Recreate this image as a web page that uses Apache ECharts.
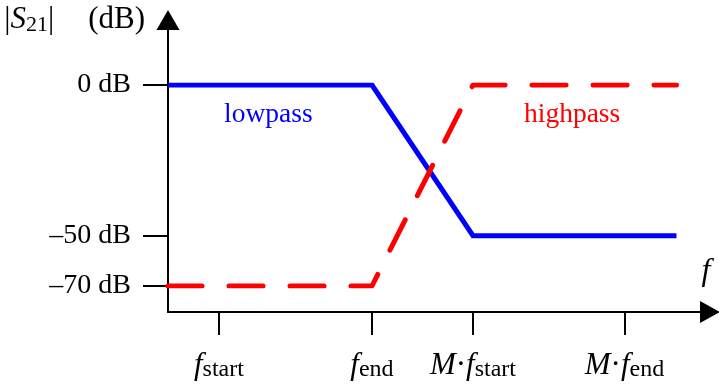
<!DOCTYPE html>
<html><head><meta charset="utf-8">
<script src="https://cdn.jsdelivr.net/npm/echarts@6/dist/echarts.min.js"></script>
<style>html,body{margin:0;padding:0;background:#fff}#c{width:719px;height:387px}</style>
</head><body><div id="c"></div>
<script>
// Schematic |S21| levels, bottom to top (evenly spaced schematic rows)
const levelCategories = ['–70 dB', '–50 dB', '', '', '0 dB'];
// Frequency axis in log units (one unit = log(f_end / f_start))
const freqTickPositions = [0, 1, 1.66, 2.65];
const freqTickLabels = ['{f|f}{s|start}', '{f|f}{s|end}', '{m|M}{d|·}{f|f}{s|start}', '{m|M}{d|·}{f|f}{s|end}'];
const freqAxisMin = -0.333;
const freqAxisMax = 3.209;
const lowpassX = [-0.333, 1, 1.66, 2.99];
const lowpassY = ['0 dB', '0 dB', '–50 dB', '–50 dB'];
const highpassX = [-0.333, 1, 1.66, 2.99];
const highpassY = ['–70 dB', '–70 dB', '0 dB', '0 dB'];

const FONT = '"Liberation Serif", "Times New Roman", serif';
const chart = echarts.init(document.getElementById('c'));
const pair = (xs, ys) => xs.map((x, i) => [x, ys[i]]);

chart.setOption({
  animation: false,
  backgroundColor: '#fff',
  grid: [
    { left: 168, right: 9, top: 20, bottom: 75, outerBoundsMode: 'none', containLabel: false },
    { left: 168, right: 9, top: 85, bottom: 101, outerBoundsMode: 'none', containLabel: false }
  ],
  xAxis: [
    {
      gridIndex: 0, type: 'value', min: freqAxisMin, max: freqAxisMax,
      name: 'f', nameLocation: 'end', nameGap: 0,
      nameTextStyle: { fontFamily: FONT, fontSize: 32, fontStyle: 'italic', color: '#000', align: 'center', verticalAlign: 'bottom', padding: [0, 8, 24, 0] },
      axisLine: { show: true, onZero: false, lineStyle: { color: '#000', width: 2 }, symbol: ['none', 'triangle'], symbolSize: [22, 20] },
      axisTick: { show: true, customValues: freqTickPositions, length: 23, lineStyle: { color: '#000', width: 2 } },
      axisLabel: {
        show: true, customValues: freqTickPositions, margin: 38, color: '#000', fontFamily: FONT, fontSize: 31,
        formatter: function (v) {
          const i = freqTickPositions.findIndex(p => Math.abs(p - v) < 1e-6);
          return i >= 0 ? freqTickLabels[i] : '';
        },
        rich: {
          f: { fontFamily: FONT, fontSize: 31, fontStyle: 'italic', color: '#000', lineHeight: 32, verticalAlign: 'top' },
          m: { fontFamily: FONT, fontSize: 31, fontStyle: 'italic', color: '#000', lineHeight: 32, verticalAlign: 'top' },
          d: { fontFamily: FONT, fontSize: 31, color: '#000', lineHeight: 32, verticalAlign: 'top' },
          s: { fontFamily: FONT, fontSize: 24, color: '#000', lineHeight: 22, padding: [20, 0, 0, 0], verticalAlign: 'bottom' }
        }
      },
      splitLine: { show: false }
    },
    { gridIndex: 1, type: 'value', min: freqAxisMin, max: freqAxisMax, show: false }
  ],
  yAxis: [
    {
      gridIndex: 0, type: 'value', min: 0, max: 1,
      name: '|{i|S}{s|21}|{g| }(dB)', nameLocation: 'end', nameGap: 0,
      nameTextStyle: {
        fontFamily: FONT, fontSize: 31, color: '#000', align: 'right', verticalAlign: 'middle', padding: [0, 23, 0, 0],
        rich: {
          i: { fontFamily: FONT, fontSize: 31, fontStyle: 'italic', color: '#000', lineHeight: 32, verticalAlign: 'top' },
          s: { fontFamily: FONT, fontSize: 22, color: '#000', lineHeight: 20, padding: [17, 0, 0, 0], verticalAlign: 'bottom' },
          g: { fontFamily: FONT, fontSize: 31, width: 34 }
        }
      },
      axisLine: { show: true, onZero: false, lineStyle: { color: '#000', width: 2 }, symbol: ['none', 'triangle'], symbolSize: [23, 20] },
      axisTick: { show: false }, axisLabel: { show: false }, splitLine: { show: false }
    },
    {
      gridIndex: 1, type: 'category', data: levelCategories, boundaryGap: false,
      axisLine: { show: false, onZero: false },
      axisTick: { show: true, length: 25, interval: function (i, v) { return v !== ''; }, lineStyle: { color: '#000', width: 2 } },
      axisLabel: { show: true, interval: 0, margin: 37, color: '#000', fontFamily: FONT, fontSize: 28 },
      splitLine: { show: false }
    }
  ],
  series: [
    {
      name: 'lowpass', type: 'line', xAxisIndex: 1, yAxisIndex: 1, data: pair(lowpassX, lowpassY),
      showSymbol: false, symbol: 'none', lineStyle: { color: '#0000ff', width: 5, cap: 'butt', join: 'miter' }, z: 3
    },
    {
      name: 'highpass', type: 'line', xAxisIndex: 1, yAxisIndex: 1, data: pair(highpassX, highpassY),
      showSymbol: false, symbol: 'none', lineStyle: { color: '#ff0000', width: 5, type: [34, 27], cap: 'round', join: 'round' }, z: 4
    }
  ],
  graphic: [
    { type: 'text', left: 224, top: 101, style: { text: 'lowpass', fill: '#0000ff', font: '27.5px ' + FONT } },
    { type: 'text', left: 524, top: 101, style: { text: 'highpass', fill: '#ff0000', font: '27.5px ' + FONT } }
  ]
});
</script></body></html>
